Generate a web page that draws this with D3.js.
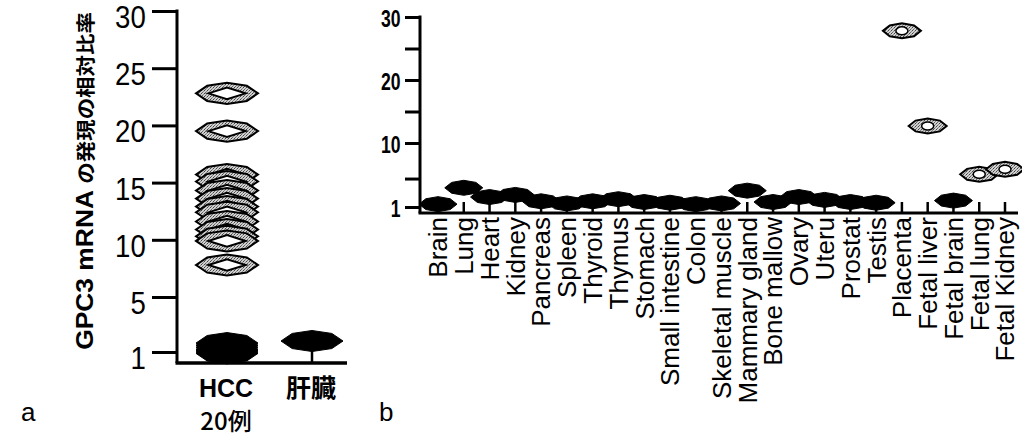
<!DOCTYPE html>
<html><head><meta charset="utf-8">
<script src="https://cdn.jsdelivr.net/npm/d3@7"></script>
<style>body{margin:0;background:#fff}svg{display:block}</style>
</head><body>
<svg id="c" width="1022" height="436"></svg>
<script>
// ---- data ----
const leftCategories = ["HCC", "肝臓"];
const leftSubLabels = ["20例", ""];
const hccValues = [22.8, 19.5, 15.7, 15.1, 14.3, 13.6, 12.9, 12.4, 11.6, 10.9, 10.3, 9.9, 7.8, 1.65, 1.5, 1.35, 1.2, 1.1, 1.0, 0.9];
const liverValues = [1.8];
const leftTickValues = [1, 5, 10, 15, 20, 25, 30];
const leftTitle = ["GPC3 mRNA ", "の発現の相対比率"];

const rightCategories = ["Brain", "Lung", "Heart", "Kidney", "Pancreas", "Spleen", "Thyroid", "Thymus", "Stomach", "Small intestine", "Colon", "Skeletal muscle", "Mammary gland", "Bone mallow", "Ovary", "Uteru", "Prostat", "Testis", "Placenta", "Fetal liver", "Fetal brain", "Fetal lung", "Fetal Kidney"];
const rightValues = [1.4, 3.7, 2.4, 2.7, 1.8, 1.5, 1.8, 2.1, 1.7, 1.6, 1.4, 1.5, 3.3, 1.7, 2.4, 2.0, 1.7, 1.6, 27.8, 12.7, 1.9, 5.6, 6.3];
const rightMajorTicks = [1, 10, 20, 30];
const rightMinorTicks = [5, 15, 25];
const panelLetters = ["a", "b"];

// ---- setup ----
const svg = d3.select("#c");
const latin = "'Liberation Sans', Arial, Helvetica, sans-serif";
const cjk = "'Noto Sans CJK JP', 'Liberation Sans', sans-serif";
const openThreshold = 5;

const defs = svg.append("defs");
const pat = defs.append("pattern").attr("id", "stip").attr("patternUnits", "userSpaceOnUse")
  .attr("width", 3).attr("height", 3);
pat.append("rect").attr("width", 3).attr("height", 3).attr("fill", "#d0d0d0");
pat.append("rect").attr("x", 0).attr("y", 0).attr("width", 1).attr("height", 1).attr("fill", "#444");
pat.append("rect").attr("x", 2).attr("y", 1).attr("width", 1).attr("height", 1).attr("fill", "#888");
pat.append("rect").attr("x", 1).attr("y", 2).attr("width", 1).attr("height", 1).attr("fill", "#666");

function blob(cx, cy, w, h) {
  const p = [[-w/2, 0], [-w*0.32, -h*0.36], [0, -h/2], [w*0.32, -h*0.36], [w/2, 0],
             [w*0.32, h*0.36], [0, h/2], [-w*0.32, h*0.36]];
  return "M" + p.map(d => (cx + d[0]) + "," + (cy + d[1])).join("L") + "Z";
}
function diamond(cx, cy, w, h) {
  return `M${cx - w/2},${cy}L${cx},${cy - h/2}L${cx + w/2},${cy}L${cx},${cy + h/2}Z`;
}

// ================= Panel a =================
const yA = d3.scaleLinear().domain([1, 5, 30]).range([352, 297, 11]);
const xA = d3.scalePoint().domain(leftCategories).range([227, 312]);
const axA = { x0: 177, x1: 347, yBase: 363 };
const gA = svg.append("g");

const yAxisA = d3.axisLeft(yA).tickValues(leftTickValues).tickSize(25).tickPadding(6).tickSizeOuter(0);
const ga = gA.append("g").attr("transform", `translate(${axA.x0},0)`).call(yAxisA);
ga.select(".domain").remove();
ga.selectAll(".tick line").attr("stroke", "#000").attr("stroke-width", 3);
ga.selectAll(".tick text").attr("font-family", latin).attr("font-size", 30).attr("fill", "#000")
  .attr("transform", "scale(0.92,1.06)").attr("x", -34).attr("y", 6);
gA.append("line").attr("x1", axA.x0).attr("x2", axA.x0).attr("y1", yA(30) - 1.5).attr("y2", axA.yBase)
  .attr("stroke", "#000").attr("stroke-width", 3);
gA.append("line").attr("x1", axA.x0 - 1.5).attr("x2", axA.x1).attr("y1", axA.yBase).attr("y2", axA.yBase)
  .attr("stroke", "#000").attr("stroke-width", 3.5);
leftCategories.forEach(c => {
  gA.append("line").attr("x1", xA(c)).attr("x2", xA(c)).attr("y1", axA.yBase).attr("y2", axA.yBase - 15)
    .attr("stroke", "#000").attr("stroke-width", 2.5);
});

function drawLeftMarker(g, cx, v) {
  const cy = yA(v), w = 62, h = 21;
  if (v > openThreshold) {
    g.append("path").attr("d", blob(cx, cy, w, h)).attr("fill", "url(#stip)").attr("stroke", "#000").attr("stroke-width", 2);
    g.append("path").attr("d", diamond(cx, cy, w * 0.6, h * 0.55)).attr("fill", "#fff").attr("stroke", "#000").attr("stroke-width", 2);
  } else {
    g.append("path").attr("d", blob(cx, cy, w, h)).attr("fill", "#000").attr("stroke", "#000").attr("stroke-width", 1);
  }
}
const markA = gA.append("g");
hccValues.slice().sort((a, b) => b - a).forEach(v => drawLeftMarker(markA, xA("HCC"), v));
liverValues.forEach(v => drawLeftMarker(markA, xA("肝臓"), v));

leftCategories.forEach((c, i) => {
  gA.append("text").attr("x", xA(c) - 1).attr("y", 397).attr("text-anchor", "middle")
    .attr("font-family", /[A-Za-z]/.test(c) ? latin : cjk).attr("font-weight", "bold").attr("font-size", 25)
    .attr("fill", "#000").text(c);
  if (leftSubLabels[i]) {
    gA.append("text").attr("x", xA(c) - 1).attr("y", 430).attr("text-anchor", "middle")
      .attr("font-family", cjk).attr("font-weight", 500).attr("font-size", 24).attr("fill", "#000").text(leftSubLabels[i]);
  }
});
const tt = gA.append("text").attr("transform", "translate(93,181) rotate(-90) scale(1.1,1)").attr("text-anchor", "middle")
  .attr("font-weight", "bold").attr("fill", "#000");
tt.append("tspan").attr("font-family", latin).attr("font-size", 24).text(leftTitle[0]);
tt.append("tspan").attr("font-family", cjk).attr("font-size", 19.5).text(leftTitle[1]);

// ================= Panel b =================
const yB = d3.scaleLinear().domain([1, 10, 30]).range([207, 143, 17]);
const xB = d3.scalePoint().domain(rightCategories).range([438, 1005]);
const axB = { x0: 420, x1: 1018, yBase: 213 };
const gB = svg.append("g");

const yAxisB = d3.axisLeft(yB).tickValues(rightMajorTicks).tickSize(15).tickPadding(4).tickSizeOuter(0);
const gb = gB.append("g").attr("transform", `translate(${axB.x0},0)`).call(yAxisB);
gb.select(".domain").remove();
gb.selectAll(".tick line").attr("stroke", "#000").attr("stroke-width", 3);
gb.selectAll(".tick text").attr("font-family", latin).attr("font-weight", "bold").attr("font-size", 20).attr("fill", "#000")
  .attr("transform", "scale(0.88,1.15)").attr("x", -22).attr("y", 2);
const gbm = gB.append("g").attr("transform", `translate(${axB.x0},0)`)
  .call(d3.axisLeft(yB).tickValues(rightMinorTicks).tickSize(15).tickFormat(""));
gbm.select(".domain").remove();
gbm.selectAll(".tick line").attr("stroke", "#000").attr("stroke-width", 3);
gB.append("line").attr("x1", axB.x0).attr("x2", axB.x0).attr("y1", yB(30) - 1.5).attr("y2", axB.yBase)
  .attr("stroke", "#000").attr("stroke-width", 3);
gB.append("line").attr("x1", axB.x0 - 1.5).attr("x2", axB.x1).attr("y1", axB.yBase).attr("y2", axB.yBase)
  .attr("stroke", "#000").attr("stroke-width", 3);
rightCategories.forEach(c => {
  gB.append("line").attr("x1", xB(c)).attr("x2", xB(c)).attr("y1", axB.yBase).attr("y2", axB.yBase - 11)
    .attr("stroke", "#000").attr("stroke-width", 2.5);
});
const markB = gB.append("g");
rightCategories.forEach((c, i) => {
  const v = rightValues[i], cx = xB(c), cy = yB(v), w = 38, h = 15;
  if (v > openThreshold) {
    markB.append("path").attr("d", blob(cx, cy, w, h)).attr("fill", "url(#stip)").attr("stroke", "#000").attr("stroke-width", 2);
    markB.append("ellipse").attr("cx", cx).attr("cy", cy).attr("rx", 6).attr("ry", 4)
      .attr("fill", "#fff").attr("stroke", "#000").attr("stroke-width", 1.5);
  } else {
    markB.append("path").attr("d", blob(cx, cy, w, h)).attr("fill", "#000").attr("stroke", "#000").attr("stroke-width", 1);
  }
});
rightCategories.forEach(c => {
  gB.append("text").attr("transform", `translate(${xB(c)},${axB.yBase + 4}) rotate(-90)`)
    .attr("text-anchor", "end").attr("dy", "0.36em").attr("font-family", latin)
    .attr("font-size", 26).attr("fill", "#000").text(c);
});

svg.append("text").attr("x", 21).attr("y", 421).attr("font-family", latin).attr("font-size", 26).attr("fill", "#000").text(panelLetters[0]);
svg.append("text").attr("x", 379).attr("y", 421).attr("font-family", latin).attr("font-size", 26).attr("fill", "#000").text(panelLetters[1]);
</script>
</body></html>
